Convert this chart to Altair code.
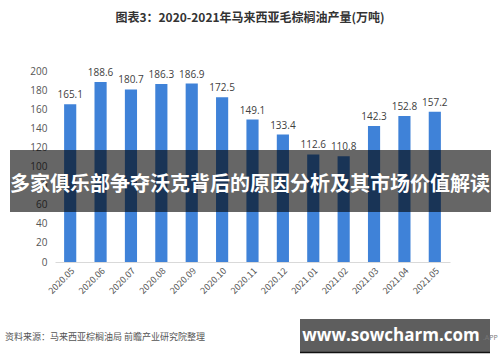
import altair as alt
import pandas as pd

months = ["2020.05", "2020.06", "2020.07", "2020.08", "2020.09", "2020.10", "2020.11",
          "2020.12", "2021.01", "2021.02", "2021.03", "2021.04", "2021.05"]
values = [165.1, 188.6, 180.7, 186.3, 186.9, 172.5, 149.1, 133.4, 112.6, 110.8, 142.3, 152.8, 157.2]
y_ticks = [0, 20, 40, 60, 80, 100, 120, 140, 160, 180, 200]

title_text = "图表3：2020-2021年马来西亚毛棕榈油产量(万吨)"
source_text = "资料来源：马来西亚棕榈油局 前瞻产业研究院整理"
overlay_text = "多家俱乐部争夺沃克背后的原因分析及其市场价值解读"
site_text = "www.sowcharm.com"

df = pd.DataFrame({"month": months, "value": values})
one = pd.DataFrame({"k": [0]})

FONT = "Noto Sans CJK SC"

base = alt.Chart(df)

x_enc = alt.X("month:N", sort=months, title=None,
              scale=alt.Scale(paddingInner=0.6, paddingOuter=0.3),
              axis=alt.Axis(labelAngle=-45, labelFontSize=9, labelColor="#555555",
                            labelFont=FONT, ticks=False, domainColor="#d9d9d9",
                            labelPadding=4, labelOverlap=False))
y_enc = alt.Y("value:Q", title=None,
              scale=alt.Scale(domain=[0, 200], nice=False),
              axis=alt.Axis(values=y_ticks, grid=False, domain=False, ticks=False,
                            labelFontSize=10, labelColor="#555555", labelFont="Open Sans",
                            labelPadding=8, labelOverlap=False, labelFlush=False,
                            labelBound=False))

bars = base.mark_bar(color="#3f82d8").encode(x=x_enc, y=y_enc)
labels = base.mark_text(dy=-9, fontSize=10, color="#404040", font="Open Sans").encode(
    x=x_enc, y=y_enc, text=alt.Text("value:Q", format=".1f"))

title = alt.Chart(one).mark_text(fontSize=12, fontWeight="bold", color="#333333",
                                 font=FONT, baseline="middle").encode(
    x=alt.value(195), y=alt.value(-53), text=alt.value(title_text))

source = alt.Chart(one).mark_text(fontSize=9, color="#555555", font=FONT,
                                  align="left", baseline="middle").encode(
    x=alt.value(-50), y=alt.value(266), text=alt.value(source_text))

overlay_rect = alt.Chart(one).mark_rect(color="#000000", opacity=0.6).encode(
    x=alt.value(-45), x2=alt.value(436), y=alt.value(79), y2=alt.value(141))
overlay_txt = alt.Chart(one).mark_text(fontSize=20, fontWeight="bold", color="#ffffff",
                                       font=FONT, baseline="middle").encode(
    x=alt.value(195), y=alt.value(114), text=alt.value(overlay_text))

site_rect = alt.Chart(one).mark_rect(color="#5e5e5e").encode(
    x=alt.value(245), x2=alt.value(435), y=alt.value(248), y2=alt.value(281))
site_line = alt.Chart(one).mark_rule(color="#111111", strokeWidth=1.5).encode(
    x=alt.value(245), x2=alt.value(435), y=alt.value(281.5))
site_txt = alt.Chart(one).mark_text(fontSize=17, fontWeight="bold", color="#ffffff",
                                    font="Open Sans", baseline="middle").encode(
    x=alt.value(336), y=alt.value(265), text=alt.value(site_text))
app_txt = alt.Chart(one).mark_text(fontSize=7, color="#777777", font="Open Sans",
                                   align="left", baseline="middle").encode(
    x=alt.value(428), y=alt.value(267), text=alt.value(".APP"))

chart = alt.layer(bars, labels, title, source, overlay_rect, overlay_txt,
                  site_rect, site_line, site_txt, app_txt).properties(
    width=395, height=191,
    autosize=alt.AutoSizeParams(type="none"),
    padding={"left": 55, "top": 71, "right": 50, "bottom": 100},
    background="#ffffff",
).configure_view(stroke=None)

chart.save("out.html", embed_options={"renderer": "svg", "actions": False})
